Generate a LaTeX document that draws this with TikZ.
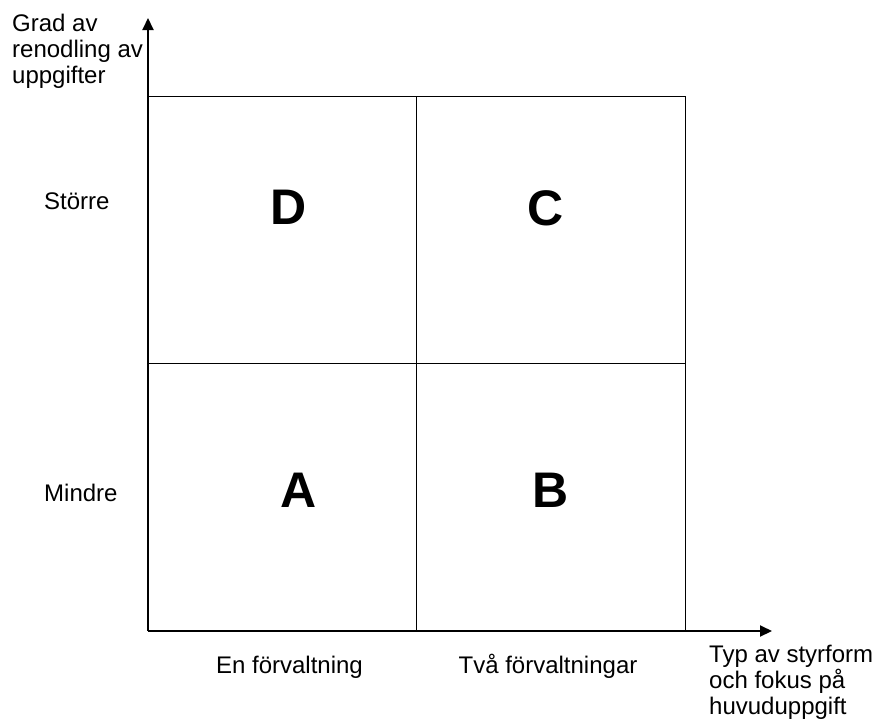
\documentclass[tikz,border=0pt]{standalone}
\usepackage{fontspec}
\setmainfont{Liberation Sans}
\usetikzlibrary{arrows.meta}
\begin{document}
\begin{tikzpicture}[x=1pt,y=-1pt,
  gridline/.style={draw=black,line width=1pt},
  axis/.style={draw=black,line width=2pt,-{Triangle[length=12pt,width=11pt]}},
  lbl/.style={inner sep=0pt,font=\fontsize{24}{26}\selectfont},
  big/.style={inner sep=0pt,font=\fontsize{50}{60}\selectfont\bfseries}]
\useasboundingbox (0,0) rectangle (877,720);
% grid
\coordinate (tl) at (148,96);
\coordinate (br) at (685,631);
\draw[gridline] (tl) rectangle (br);
\coordinate (mt) at (416,96);
\coordinate (mb) at (416,631);
\coordinate (ml) at (148,363);
\coordinate (mr) at (685,363);
\draw[gridline] (mt) -- (mb);
\draw[gridline] (ml) -- (mr);
% axes
\coordinate (O) at (148,631);
\coordinate (ytip) at (148,18);
\coordinate (xtip) at (772,631);
\draw[axis] (O) -- (ytip);
\draw[axis] (O) -- (xtip);
% letters
\node[big,anchor=base] (D) at (289,224) {D};
\node[big,anchor=base] (C) at (546,225) {C};
\node[big,anchor=base] (A) at (299,507) {A};
\node[big,anchor=base] (B) at (551,507) {B};
% labels
\node[lbl,anchor=north west,align=left] (ylab) at (12,14) {Grad av\\renodling av\\uppgifter};
\node[lbl,anchor=base west] (big1) at (44,209) {Större};
\node[lbl,anchor=base west] (small1) at (44,501) {Mindre};
\node[lbl,anchor=base] (en) at (289.5,673) {En förvaltning};
\node[lbl,anchor=base] (tva) at (548,673) {Två förvaltningar};
\node[lbl,anchor=north west,align=left] (xlab) at (709,645) {Typ av styrform\\och fokus på\\huvuduppgift};
\end{tikzpicture}
\end{document}
